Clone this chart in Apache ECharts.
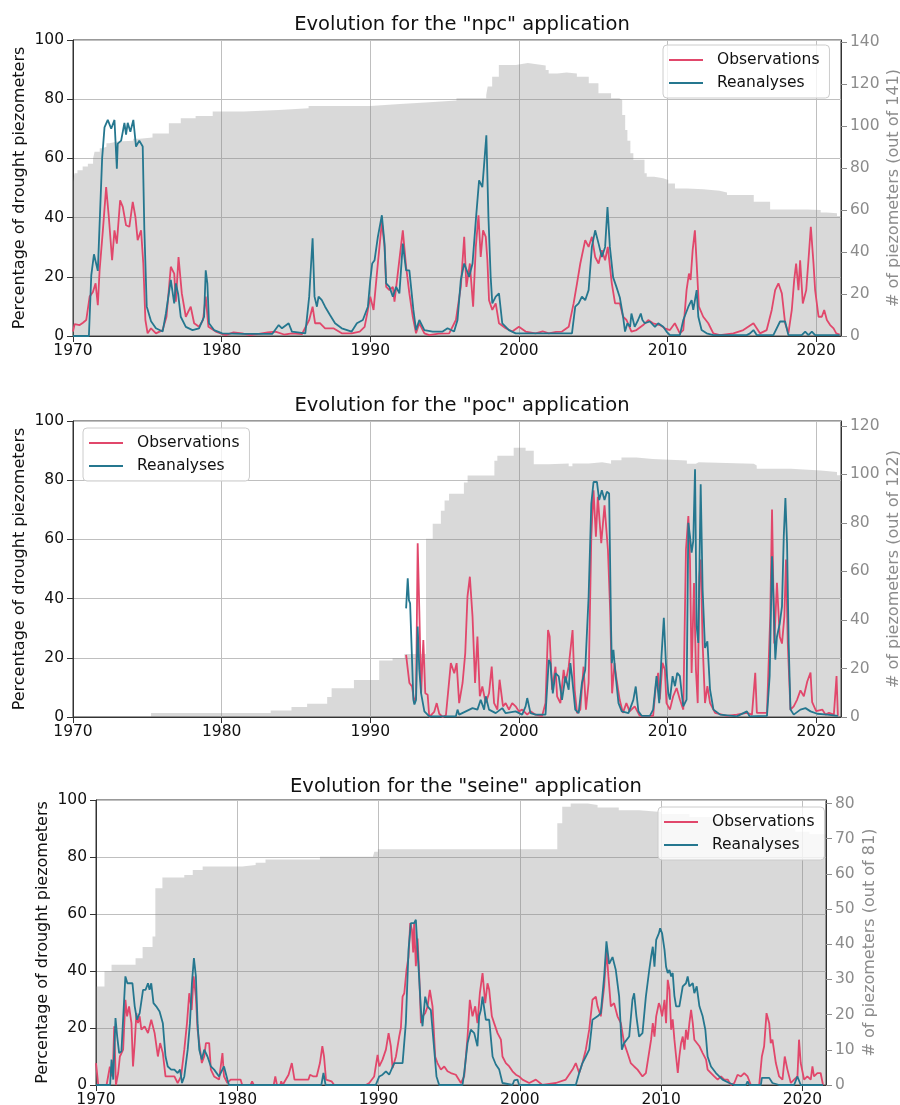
<!DOCTYPE html>
<html><head><meta charset="utf-8">
<script src="https://cdn.jsdelivr.net/npm/echarts@6/dist/echarts.min.js"></script>
<style>html,body{margin:0;padding:0;background:#fff}#c{width:900px;height:1105px}</style>
</head><body><div id="c"></div>
<script>
// ---------- DATA ----------
const xTicks = [1970, 1980, 1990, 2000, 2010, 2020];
const seriesNames = ['Observations', 'Reanalyses'];
const titles = ['Evolution for the "npc" application', 'Evolution for the "poc" application', 'Evolution for the "seine" application'];
const leftAxisName = 'Percentage of drought piezometers';
const rightAxisNames = ['# of piezometers (out of 141)', '# of piezometers (out of 122)', '# of piezometers (out of 81)'];
const rightMax = [141, 122, 81];
const rightTicks1 = [0, 20, 40, 60, 80, 100, 120, 140];
const rightTicks2 = [0, 20, 40, 60, 80, 100, 120];
const rightTicks3 = [0, 10, 20, 30, 40, 50, 60, 70, 80];
const leftTicks = [0, 20, 40, 60, 80, 100];

const npcObs = [[1970.0,1.5],[1970.11,4],[1970.45,3.7],[1970.67,4.5],[1970.89,5.4],[1971.12,13.3],[1971.34,14.9],[1971.52,17.8],[1971.67,10.4],[1971.79,22.2],[1972.01,35.7],[1972.23,50.3],[1972.41,40.2],[1972.63,25.6],[1972.79,35.7],[1972.95,31.2],[1973.17,45.8],[1973.35,43.6],[1973.57,37.4],[1973.79,36.9],[1974.02,45.3],[1974.2,40.2],[1974.35,32.4],[1974.58,35.7],[1974.73,24.5],[1974.87,5.4],[1975.02,0.9],[1975.25,2.6],[1975.58,0.9],[1976.03,2],[1976.29,6.5],[1976.58,23.4],[1976.81,21.1],[1976.92,11.6],[1977.1,26.7],[1977.32,14.4],[1977.59,6.5],[1977.92,9.9],[1978.15,4.3],[1978.48,3.1],[1978.75,5.4],[1978.93,13.3],[1979.11,3.1],[1979.6,1.5],[1980.27,0.3],[1980.8,1.2],[1981.38,0.9],[1981.9,0.3],[1982.5,0.7],[1983.1,1.2],[1983.62,1.5],[1984.2,0.5],[1984.73,0.9],[1985.4,0.6],[1985.89,5.4],[1986.12,9.9],[1986.29,4.3],[1986.63,4.3],[1986.96,2.6],[1987.52,2.6],[1988.08,0.9],[1988.75,0.9],[1989.29,1.5],[1989.62,3.1],[1989.84,8.8],[1990.0,13.3],[1990.22,8.8],[1990.51,24.5],[1990.78,38.5],[1990.96,30.1],[1991.07,16.6],[1991.29,15.5],[1991.52,16.6],[1991.63,11.6],[1991.85,21.1],[1992.19,35.7],[1992.41,23.4],[1992.63,14.4],[1992.86,6.5],[1993.08,0.9],[1993.3,4.3],[1993.64,0.9],[1993.97,0.3],[1994.6,0.8],[1995.31,0.9],[1995.76,5.4],[1996.09,16.6],[1996.32,33.5],[1996.47,16.6],[1996.7,24.5],[1996.92,9.9],[1997.1,30.1],[1997.28,40.8],[1997.43,26.7],[1997.59,35.7],[1997.77,33.5],[1997.88,25.6],[1997.99,12.1],[1998.21,8.8],[1998.44,11],[1998.66,4.3],[1999.11,2.6],[1999.55,1.5],[2000.0,3.1],[2000.45,1.5],[2001.12,0.9],[2001.6,1.6],[2002.01,0.9],[2002.5,1.4],[2002.9,1.5],[2003.35,3.1],[2003.68,11],[2003.91,17.8],[2004.13,24.5],[2004.46,32.4],[2004.69,30.1],[2004.91,33.5],[2005.13,26.7],[2005.36,24.5],[2005.58,29],[2005.8,25.6],[2005.98,30.1],[2006.25,17.8],[2006.47,11],[2006.79,11],[2007.01,6.5],[2007.24,5.4],[2007.57,1.5],[2007.91,2],[2008.36,3.7],[2008.7,5.4],[2009.03,4.3],[2009.48,3.7],[2009.82,2.6],[2010.16,2],[2010.49,4.3],[2010.83,0.9],[2011.06,2],[2011.28,15.5],[2011.44,21.1],[2011.55,18.9],[2011.69,29],[2011.84,35.7],[2011.96,24.5],[2012.11,9.9],[2012.4,6.5],[2012.74,4.3],[2013.08,0.9],[2013.53,0.3],[2014.43,0.9],[2015.1,2],[2015.78,4.3],[2016.22,0.9],[2016.67,2],[2017.01,8.8],[2017.24,15.5],[2017.46,17.8],[2017.69,14.4],[2017.91,4.3],[2018.13,0.9],[2018.36,8.8],[2018.52,18.9],[2018.65,24.5],[2018.81,15.5],[2018.92,25.6],[2019.1,11],[2019.33,15.5],[2019.48,25.6],[2019.64,36.9],[2019.82,24.5],[2019.93,15.5],[2020.16,6.5],[2020.38,6.5],[2020.54,8.8],[2020.72,5.4],[2020.94,3.7],[2021.17,2.6],[2021.35,0.9],[2021.58,0.5]];
const npcRea = [[1970,0],[1971.07,0],[1971.23,20.5],[1971.41,27.6],[1971.67,22],[1971.79,21.5],[1971.96,60],[1972.12,70.5],[1972.34,73],[1972.57,70],[1972.79,73],[1972.95,56.5],[1973.01,65],[1973.24,66],[1973.46,72],[1973.57,68],[1973.68,72],[1973.86,69],[1974.06,73],[1974.24,64],[1974.46,66],[1974.69,64],[1974.8,36],[1974.96,10],[1975.25,5],[1975.58,2.6],[1976.03,1.5],[1976.25,7.6],[1976.58,19],[1976.81,11],[1976.92,17.8],[1977.08,14],[1977.25,6.5],[1977.59,3.1],[1978.04,2],[1978.48,2.6],[1978.82,6.5],[1978.93,22.2],[1979.04,17.8],[1979.15,4.3],[1979.49,2],[1980.04,0.9],[1981.38,0.7],[1983.4,0.7],[1983.84,3.7],[1984.06,2.6],[1984.51,4.3],[1984.73,1.5],[1985.63,0.9],[1985.89,13.3],[1986.12,33],[1986.25,13.3],[1986.41,9.9],[1986.52,13.3],[1986.74,12.1],[1986.96,9.9],[1987.3,7],[1987.63,4.3],[1988.08,2.6],[1988.75,1.5],[1989.1,4.3],[1989.5,5.4],[1989.84,9.9],[1990.0,18.9],[1990.13,24.5],[1990.29,25.6],[1990.51,33.5],[1990.78,40.8],[1990.96,31.2],[1991.07,17.8],[1991.29,16.6],[1991.52,13.3],[1991.74,16.6],[1991.96,14.4],[1992.19,31.2],[1992.41,22.2],[1992.63,22.2],[1992.9,8.8],[1993.08,2],[1993.3,5.4],[1993.64,2],[1994.2,1.5],[1994.87,1.5],[1995.2,2.6],[1995.64,1.5],[1995.87,5.4],[1996.09,18.9],[1996.32,24.5],[1996.65,20],[1996.88,24.5],[1997.1,39],[1997.32,52.6],[1997.54,50.3],[1997.66,58],[1997.81,67.8],[1997.95,40.2],[1998.1,20],[1998.21,11],[1998.44,13.3],[1998.66,14.4],[1998.88,4.3],[1999.33,2],[1999.78,0.9],[2000.5,0.9],[2003.57,0.9],[2003.79,9.9],[2004.02,11],[2004.24,13.3],[2004.46,12.1],[2004.69,15.5],[2004.91,30.1],[2005.13,35.7],[2005.36,31.2],[2005.58,26.7],[2005.8,30.1],[2005.96,43.6],[2006.12,30.1],[2006.34,19.8],[2006.56,16.6],[2006.79,13],[2007.01,6.5],[2007.14,1.5],[2007.3,4.3],[2007.48,3.1],[2007.57,7.6],[2007.79,3.1],[2008.02,5.4],[2008.2,7.6],[2008.31,5.4],[2008.47,4.3],[2008.81,4.9],[2009.15,3.1],[2009.37,4.3],[2009.71,3.1],[2009.93,1.5],[2010.16,0.3],[2010.83,0.3],[2011.06,5.4],[2011.4,9.9],[2011.62,12.1],[2011.73,8.8],[2011.96,15.5],[2012.07,6.5],[2012.29,2],[2012.63,0.9],[2013.08,0.3],[2015.33,0.3],[2015.55,0.9],[2015.78,2],[2016.0,0.3],[2017.12,0.3],[2017.57,4.9],[2017.91,4.9],[2018.13,0.3],[2019.03,0.3],[2019.26,1.5],[2019.48,0.3],[2019.71,1.5],[2019.93,0.3],[2021.58,0.3]];
const npcCount = [[1970.0,73.5],[1970.1,77.5],[1970.3,79],[1970.65,80.7],[1971.0,82],[1971.35,84.6],[1971.45,87.8],[1971.8,89.4],[1972.0,90.2],[1972.25,91.8],[1972.45,92.6],[1973.0,93],[1974.05,94],[1974.5,94.6],[1975.35,96.5],[1976.45,101.3],[1977.25,103.7],[1978.25,104.8],[1979.4,106.9],[1981.5,107.7],[1983.85,108.5],[1985.85,109.6],[1990.0,110.5],[1992.0,111.3],[1994.0,112.2],[1995.8,113.2],[1997.8,114.8],[1997.9,118.8],[1998.2,123.5],[1998.65,129.1],[1999.8,130],[2000.6,129.5],[2001.2,128.9],[2001.8,126.7],[2002.0,125.1],[2002.6,125.5],[2003.2,125],[2003.9,123.5],[2004.7,120.4],[2005.35,115.6],[2006.2,113.2],[2006.75,112.4],[2006.95,105.3],[2007.15,98.1],[2007.3,93],[2007.5,87],[2007.7,84],[2008.45,77.5],[2008.6,75.9],[2009.1,75.1],[2009.7,74.3],[2010.05,72.7],[2010.5,70.3],[2011.3,69.9],[2012.4,69.2],[2013.5,68.3],[2014.0,67.2],[2015.8,64],[2016.9,60.3],[2019.4,60],[2020.3,58.8],[2020.7,58.5],[2021.4,57.2],[2021.67,57.2]];

const pocObs = [[1992.41,21],[1992.63,11.5],[1992.81,10.3],[1992.97,4.7],[1993.08,7],[1993.19,58.7],[1993.3,36],[1993.42,8],[1993.57,26],[1993.7,8],[1993.86,7.5],[1993.97,0],[1994.3,1.7],[1994.47,4.7],[1994.64,1.1],[1994.87,0],[1995.09,0.6],[1995.42,18.2],[1995.65,14.8],[1995.81,18.2],[1995.98,4.7],[1996.21,11.5],[1996.39,21.6],[1996.54,40.7],[1996.7,47.4],[1996.88,33.9],[1997.05,11.5],[1997.21,27.2],[1997.37,7],[1997.54,10.3],[1997.77,4.7],[1997.99,8],[1998.17,17],[1998.33,4.7],[1998.55,2.5],[1998.7,12.6],[1998.93,3.6],[1999.11,4.7],[1999.33,2.5],[1999.55,4.7],[1999.78,3.6],[2000.0,1.9],[2000.22,2.5],[2000.56,0.8],[2000.78,1.9],[2001.12,0.8],[2001.56,0.3],[2001.79,4.7],[2001.96,29.4],[2002.07,27.2],[2002.23,9.2],[2002.46,17],[2002.57,7],[2002.79,4.7],[2003.01,15.9],[2003.13,11.5],[2003.35,17],[2003.61,29.4],[2003.75,9.2],[2003.91,1.3],[2004.13,2.5],[2004.35,17],[2004.51,2.5],[2004.69,11.5],[2004.87,60.9],[2005.02,76.6],[2005.18,60.9],[2005.31,74.4],[2005.54,58.7],[2005.76,71.5],[2005.99,56.4],[2006.14,36],[2006.27,8],[2006.43,18.2],[2006.54,13.7],[2006.78,5.8],[2007.0,1.4],[2007.23,4.7],[2007.45,1.9],[2007.79,3.6],[2008.13,0.4],[2009.03,0.4],[2009.21,10.4],[2009.37,14.9],[2009.48,5.9],[2009.66,18.3],[2009.82,16],[2009.93,4.7],[2010.16,2.5],[2010.38,7],[2010.61,9.8],[2010.83,5.9],[2011.06,2.5],[2011.24,56.6],[2011.4,67.9],[2011.51,53.2],[2011.62,14.9],[2011.78,45.3],[2011.91,16],[2012.03,4.7],[2012.14,47.3],[2012.23,53.2],[2012.36,25],[2012.52,4.7],[2012.68,10.4],[2012.86,4.7],[2013.2,1.4],[2013.99,0.4],[2014.66,0.8],[2015.34,1.4],[2015.68,0.8],[2015.9,14.9],[2016.01,1.4],[2016.69,1.4],[2016.91,34],[2017.03,70.1],[2017.18,24.8],[2017.36,45.3],[2017.55,27.1],[2017.7,24.8],[2017.86,34],[2017.97,53.2],[2018.09,24.8],[2018.27,2.5],[2018.49,3.6],[2018.72,5.9],[2018.94,9],[2019.17,7],[2019.4,12],[2019.62,15],[2019.73,5],[2020.0,2],[2020.41,2.5],[2020.63,0.8],[2020.86,1.4],[2021.19,0.8],[2021.37,13.8],[2021.46,0.4]];
const pocRea = [[1992.41,36.7],[1992.52,46.9],[1992.6,39.5],[1992.68,38.4],[1992.81,38.4],[1992.9,5.8],[1992.97,4.2],[1993.08,5.8],[1993.19,30.6],[1993.3,16],[1993.42,8],[1993.64,1.9],[1993.97,0.2],[1995.76,0.2],[1995.87,2.5],[1995.98,0.8],[1996.43,1.9],[1996.88,3],[1997.21,2.5],[1997.43,5.8],[1997.66,2.5],[1997.77,7],[1997.99,2.5],[1998.44,1.3],[1998.88,3],[1999.11,1.3],[1999.78,1.9],[2000.22,0.8],[2000.45,3.6],[2000.56,6.4],[2000.78,1.3],[2001.12,0.8],[2001.79,0.8],[2002.01,19.3],[2002.12,18.2],[2002.28,8],[2002.46,14.8],[2002.68,13.7],[2002.9,5.8],[2003.13,13.7],[2003.35,9.2],[2003.46,18.2],[2003.57,13.7],[2003.79,2.5],[2004.02,1.3],[2004.24,11.5],[2004.46,15.9],[2004.69,40.7],[2004.87,72],[2005.02,79.4],[2005.25,79.4],[2005.4,73.3],[2005.58,76.6],[2005.76,73.3],[2005.92,76.1],[2006.07,75.5],[2006.2,30],[2006.25,18.2],[2006.36,22.7],[2006.47,15.9],[2006.7,4.7],[2006.92,1.9],[2007.37,1.3],[2007.7,5.8],[2007.86,10.3],[2008.04,1.9],[2008.26,0.4],[2008.81,0.4],[2009.03,2.5],[2009.26,13.8],[2009.44,4.7],[2009.59,20.3],[2009.75,33.5],[2009.89,18.3],[2010.05,8.1],[2010.16,5.9],[2010.34,13.8],[2010.5,10.4],[2010.65,14.9],[2010.83,13.8],[2010.95,8.1],[2011.06,3.6],[2011.28,5.9],[2011.4,65.6],[2011.51,61.1],[2011.62,55.5],[2011.73,59.4],[2011.85,83.7],[2011.96,30.6],[2012.07,25],[2012.23,78.6],[2012.36,43],[2012.52,23.3],[2012.68,25.6],[2012.86,9.2],[2013.09,2.5],[2013.54,0.8],[2014.66,0.2],[2015.34,1.9],[2015.52,0.2],[2016.69,0.4],[2016.87,13.8],[2017.03,54.3],[2017.14,38.3],[2017.25,19.4],[2017.36,27.1],[2017.55,31.6],[2017.7,37.4],[2017.82,61.1],[2017.93,74],[2018.04,58.7],[2018.15,24.8],[2018.27,2.5],[2018.49,0.8],[2018.94,2.5],[2019.28,3],[2019.62,1.9],[2020.07,1.1],[2020.74,0.8],[2021.46,0.4]];
const pocCount = [[1975.25,1.6],[1983.3,2.7],[1984.7,4.1],[1985.75,5.5],[1987.1,8.2],[1987.4,11.9],[1988.9,15.3],[1990.6,23.3],[1991.5,24.2],[1992.3,26],[1993.75,73.5],[1994.2,79.6],[1994.75,85],[1995.0,89.2],[1995.3,92],[1996.3,96.7],[1996.55,99.5],[1998.35,105.6],[1998.55,107.7],[1999.65,111],[2000.45,109.7],[2001.0,104.2],[2002.0,104.5],[2003.35,103.4],[2003.6,104.5],[2004.7,105],[2005.6,104.4],[2006.2,105.8],[2006.9,107],[2007.9,106.3],[2009.0,105.7],[2011.3,104.4],[2011.9,105],[2012.1,104.4],[2015.8,103.7],[2016.0,102.3],[2018.3,101.6],[2020.3,101],[2021.4,99.6],[2021.67,99.6]];

const seineObs = [[1970.0,7.7],[1970.16,0],[1970.75,0],[1970.98,6.4],[1971.1,3],[1971.22,8.9],[1971.29,20.6],[1971.41,0],[1971.57,4.2],[1971.69,10],[1971.8,10],[1971.92,12.4],[1972.08,29.9],[1972.2,24.1],[1972.34,27.6],[1972.51,21.7],[1972.62,6.5],[1972.74,14.7],[1972.86,25.2],[1972.97,21.7],[1973.09,24.1],[1973.21,19.4],[1973.44,20.6],[1973.68,18.2],[1973.91,22.9],[1974.15,18.2],[1974.38,10],[1974.54,14.7],[1974.73,11.2],[1974.92,3],[1975.2,3],[1975.55,3],[1975.78,0.7],[1976.02,3],[1976.25,12.4],[1976.44,21.7],[1976.6,32.2],[1976.77,26.3],[1976.91,38.1],[1977.07,31],[1977.19,19.4],[1977.31,14.7],[1977.49,7.7],[1977.66,10],[1977.78,14.7],[1978.01,14.7],[1978.13,5.4],[1978.36,3],[1978.71,1.9],[1978.95,11.2],[1979.06,3],[1979.3,0.7],[1979.53,1.9],[1980.23,1.9],[1980.35,0],[1980.94,0],[1981.05,1.3],[1981.17,0],[1982.58,0],[1982.69,3],[1982.81,0],[1983.04,0],[1983.11,1.3],[1983.21,0],[1983.63,3.6],[1983.86,7.7],[1984.05,1.9],[1984.33,1.9],[1985.04,1.9],[1985.15,3.6],[1985.39,3],[1985.62,3],[1985.85,7.7],[1986.02,13.6],[1986.14,10],[1986.28,1.9],[1986.67,1.3],[1986.86,0],[1989.1,0],[1989.34,0.7],[1989.69,3],[1989.93,10.6],[1990.05,6.5],[1990.28,8.9],[1990.52,12.4],[1990.71,18.2],[1990.87,13.6],[1990.99,6],[1991.23,10],[1991.46,17],[1991.58,20],[1991.7,31],[1991.82,32.2],[1991.98,40.4],[1992.12,45],[1992.24,56.8],[1992.36,54.5],[1992.45,46.5],[1992.52,56.8],[1992.64,41.7],[1992.76,51.4],[1992.88,38.6],[1993.0,21.7],[1993.11,24.1],[1993.3,25.2],[1993.47,27.6],[1993.63,33.4],[1993.82,27.6],[1994.01,9.9],[1994.17,7.7],[1994.41,5.4],[1994.65,6.5],[1994.88,4.8],[1995.12,4.2],[1995.47,3.6],[1995.83,0.7],[1996.06,3],[1996.3,17],[1996.46,29.9],[1996.65,24.1],[1996.84,27.6],[1997.0,21.7],[1997.17,32.2],[1997.36,39.3],[1997.55,28.7],[1997.71,35.7],[1997.83,33.4],[1998.02,24.1],[1998.18,21.7],[1998.42,18.2],[1998.66,15.9],[1998.77,10],[1999.01,7.7],[1999.25,6.5],[1999.48,4.8],[1999.72,3.6],[1999.95,3],[2000.19,1.9],[2000.66,0.7],[2001.13,1.9],[2001.6,0],[2002.55,0.7],[2003.25,1.9],[2003.73,5.4],[2003.96,7.7],[2004.2,4.2],[2004.43,7.7],[2004.67,12.4],[2004.91,19.4],[2005.14,29.9],[2005.38,31],[2005.5,27.6],[2005.73,24.1],[2005.97,34.6],[2006.13,47.4],[2006.27,38.1],[2006.44,27.6],[2006.67,28.7],[2006.91,24.1],[2007.15,21.7],[2007.38,14.7],[2007.62,11.2],[2007.85,7.7],[2008.09,6.5],[2008.33,5.4],[2008.68,3],[2008.92,4.2],[2009.18,12.4],[2009.29,15.9],[2009.41,21.7],[2009.53,17],[2009.65,24.1],[2009.84,28.7],[2009.93,27.6],[2010.07,24.1],[2010.24,29.9],[2010.35,21.7],[2010.47,36.9],[2010.59,33.4],[2010.71,19.4],[2010.82,23],[2010.94,15.9],[2011.06,10],[2011.18,4.2],[2011.29,10],[2011.41,14.7],[2011.53,17],[2011.65,12.4],[2011.76,19.4],[2011.88,15.9],[2012.0,21.7],[2012.12,26.4],[2012.24,21.7],[2012.35,15.9],[2012.47,15.9],[2012.71,13.6],[2012.94,11.2],[2013.18,8.9],[2013.29,5.4],[2013.53,4.2],[2013.76,3],[2014.0,1.9],[2014.24,3],[2014.47,1.9],[2014.71,1.9],[2014.94,0],[2015.18,0.7],[2015.41,3.6],[2015.65,3],[2015.88,4.2],[2016.12,3],[2016.35,0],[2016.94,0],[2017.13,10],[2017.29,13.6],[2017.46,25.2],[2017.65,21.7],[2017.76,14.7],[2017.88,15.9],[2018.12,7.7],[2018.35,3],[2018.59,1.9],[2018.75,10],[2018.94,5.4],[2019.18,0.7],[2019.41,1.9],[2019.65,3],[2019.76,15.9],[2019.88,7.7],[2020.12,1.9],[2020.35,3],[2020.59,1.9],[2020.71,6.5],[2020.82,3],[2021.06,4.2],[2021.29,4.2],[2021.46,0]];
const seineRea = [[1970.0,0],[1971.0,0],[1971.1,8.9],[1971.22,1.9],[1971.38,23.5],[1971.5,17],[1971.64,11.2],[1971.8,11.8],[1971.92,11.8],[1972.08,38.1],[1972.22,35.7],[1972.58,35.7],[1972.74,27.6],[1972.9,22.9],[1973.09,25.2],[1973.33,33.4],[1973.51,33.4],[1973.68,35.7],[1973.79,33.4],[1973.91,35.7],[1974.07,28.7],[1974.26,27.6],[1974.5,25.8],[1974.73,21.7],[1974.92,10],[1975.08,6.5],[1975.32,5.4],[1975.55,5.4],[1975.78,4.2],[1975.95,5.4],[1976.09,0.7],[1976.25,3],[1976.49,12.4],[1976.65,21.7],[1976.79,35.7],[1976.93,44.5],[1977.07,38.1],[1977.19,21.7],[1977.31,12.4],[1977.49,8.9],[1977.66,12.4],[1977.89,10],[1978.13,6.5],[1978.36,5.4],[1978.71,3],[1979.06,6.5],[1979.3,1.9],[1979.41,0],[1985.95,0],[1986.1,4.2],[1986.25,0],[1989.8,0],[1990.05,3],[1990.28,3.6],[1990.52,4.8],[1990.75,3.6],[1991.11,7.7],[1991.7,7.7],[1991.93,21.7],[1992.12,47.4],[1992.29,56.8],[1992.52,56.8],[1992.64,58],[1992.76,58.5],[1992.88,36.9],[1993.0,26.3],[1993.11,20.6],[1993.3,31],[1993.47,27.6],[1993.7,26.3],[1993.94,12.4],[1994.1,3],[1994.29,0],[1995.94,0],[1996.06,4.2],[1996.3,14.7],[1996.53,19.4],[1996.77,18.2],[1997.0,13.6],[1997.12,24.1],[1997.24,26.3],[1997.36,31],[1997.59,22.9],[1997.83,22.9],[1998.07,10],[1998.3,7.2],[1998.54,5.4],[1998.77,0.7],[1998.89,0],[1999.48,0],[1999.6,1.6],[1999.83,1.9],[1999.95,0],[2003.96,0],[2004.2,4.2],[2004.43,7.7],[2004.67,10],[2004.91,12.4],[2005.14,22.9],[2005.5,24.1],[2005.73,25.2],[2005.97,38.1],[2006.13,50.4],[2006.32,42.5],[2006.56,44.9],[2006.79,40.4],[2007.03,31],[2007.22,12.4],[2007.38,14.7],[2007.74,17],[2007.97,29.9],[2008.09,32.2],[2008.25,24.1],[2008.44,17],[2008.68,18.2],[2008.92,31],[2009.15,40],[2009.29,45],[2009.41,48.5],[2009.53,41.5],[2009.65,50.9],[2009.84,53.2],[2009.93,55],[2010.07,53.2],[2010.24,47.4],[2010.35,41.5],[2010.47,39.3],[2010.59,40.4],[2010.71,38.1],[2010.82,39.3],[2010.94,31.3],[2011.06,27.6],[2011.29,27.6],[2011.53,34.6],[2011.76,35.7],[2011.88,38.1],[2012.0,34.6],[2012.24,35.7],[2012.35,32.2],[2012.52,34.6],[2012.71,27.6],[2012.94,24.1],[2013.13,19.4],[2013.29,10],[2013.53,6.5],[2013.88,4.2],[2014.35,1.9],[2014.82,0.7],[2015.18,0],[2016.0,0],[2016.12,1.3],[2016.24,0],[2017.06,0],[2017.13,2.5],[2017.65,2.5],[2017.88,0.7],[2018.35,0],[2019.41,0],[2019.65,3],[2019.88,0],[2021.46,0]];
const seineCount = [[1970.0,28],[1970.6,32.3],[1971.1,34.2],[1972.8,36],[1973.3,39.2],[1974.0,42.2],[1974.2,55.9],[1974.7,59],[1976.25,59.7],[1976.85,61.1],[1977.55,62.1],[1980.35,62.5],[1981.3,63.2],[1982.0,64.1],[1985.85,64.9],[1989.6,65.4],[1989.7,66.3],[1989.95,67],[2002.65,74.4],[2003.0,79.1],[2003.6,80],[2004.8,79.6],[2005.5,78.9],[2007.0,78.1],[2008.45,77.6],[2010.0,77],[2012.0,76.2],[2014.0,75.2],[2016.0,74],[2018.0,73],[2019.5,72],[2020.5,71.3],[2021.67,71.3]];

// ---------- LAYOUT / STYLE ----------
const XMIN = 1970, XMAX = 2021.67;
const F = 'DejaVu Sans';
const RED = '#e1476b';
const TEAL = '#25778f';
const panels = [
  {obs: npcObs, rea: npcRea, cnt: npcCount, rTicks: rightTicks1, rInt: 20, rGap: 45,
   grid: {left: 73, top: 40, width: 768, height: 296}, titleTop: 10, legend: {left: 663, top: 45}},
  {obs: pocObs, rea: pocRea, cnt: pocCount, rTicks: rightTicks2, rInt: 20, rGap: 45,
   grid: {left: 73, top: 421, width: 768, height: 296}, titleTop: 391, legend: {left: 83, top: 428}},
  {obs: seineObs, rea: seineRea, cnt: seineCount, rTicks: rightTicks3, rInt: 10, rGap: 36,
   grid: {left: 96, top: 800, width: 730, height: 285}, titleTop: 772, legend: {left: 658, top: 807}}
];

const option = {animation: false, backgroundColor: '#fff', title: [], grid: [], xAxis: [], yAxis: [], legend: [], series: []};

panels.forEach((p, i) => {
  const g = p.grid;
  option.title.push({text: titles[i], left: g.left + g.width / 2, top: p.titleTop, textAlign: 'center',
    textStyle: {fontFamily: F, fontSize: 19.5, fontWeight: 'normal', color: '#111'}});
  option.grid.push({left: g.left, top: g.top, width: g.width, height: g.height, show: true,
    borderColor: '#333', borderWidth: 1, backgroundColor: 'transparent', containLabel: false,
    outerBoundsMode: 'none'});
  option.xAxis.push({type: 'value', gridIndex: i, min: XMIN, max: XMAX, interval: 10,
    axisLine: {show: true, onZero: false, lineStyle: {color: '#333', width: 1}},
    axisTick: {show: true, length: 6, lineStyle: {color: '#333'}, customValues: xTicks},
    axisLabel: {fontFamily: F, fontSize: 15.5, color: '#111', margin: 7, customValues: xTicks,
      formatter: v => String(Math.round(v))},
    splitLine: {show: true, lineStyle: {color: '#bfbfbf', width: 1}}});
  option.yAxis.push({type: 'value', gridIndex: i, position: 'left', min: 0, max: 100, interval: 20,
    name: leftAxisName, nameLocation: 'middle', nameRotate: 90, nameGap: 45, nameMoveOverlap: false,
    nameTextStyle: {fontFamily: F, fontSize: 16, color: '#111'},
    axisLine: {show: true, onZero: false, lineStyle: {color: '#333', width: 1}},
    axisTick: {show: true, length: 6, lineStyle: {color: '#333'}, customValues: leftTicks},
    axisLabel: {fontFamily: F, fontSize: 15.5, color: '#111', margin: 9, customValues: leftTicks},
    splitLine: {show: true, lineStyle: {color: '#bfbfbf', width: 1}}});
  option.yAxis.push({type: 'value', gridIndex: i, position: 'right', min: 0, max: rightMax[i], interval: p.rInt,
    name: rightAxisNames[i], nameLocation: 'middle', nameRotate: 90, nameGap: p.rGap, nameMoveOverlap: false,
    nameTextStyle: {fontFamily: F, fontSize: 16, color: '#8c8c8c'},
    axisLine: {show: true, onZero: false, lineStyle: {color: '#333', width: 1}},
    axisTick: {show: true, length: 6, lineStyle: {color: '#8c8c8c'}, customValues: p.rTicks},
    axisLabel: {fontFamily: F, fontSize: 15.5, color: '#8c8c8c', margin: 9, customValues: p.rTicks},
    splitLine: {show: false}});
  option.legend.push({data: seriesNames, orient: 'vertical', left: p.legend.left, top: p.legend.top,
    icon: 'rect', itemWidth: 34, itemHeight: 2, itemGap: 7, padding: [7, 10, 7, 6],
    backgroundColor: 'rgba(255,255,255,0.8)', borderColor: '#cccccc', borderWidth: 1, borderRadius: 4,
    textStyle: {fontFamily: F, fontSize: 15.5, color: '#111', lineHeight: 16, padding: [0, 0, 0, 9]},
    selectedMode: false});
  option.series.push({type: 'line', name: 'count', xAxisIndex: i, yAxisIndex: 2 * i + 1, data: p.cnt,
    step: 'end', symbol: 'none', silent: true, lineStyle: {width: 0, opacity: 0},
    areaStyle: {color: 'rgba(128,128,128,0.3)', opacity: 1, origin: 'start'}, z: 1});
  option.series.push({type: 'line', name: seriesNames[0], xAxisIndex: i, yAxisIndex: 2 * i, data: p.obs,
    symbol: 'none', lineStyle: {width: 1.8, color: RED}, itemStyle: {color: RED}, z: 3});
  option.series.push({type: 'line', name: seriesNames[1], xAxisIndex: i, yAxisIndex: 2 * i, data: p.rea,
    symbol: 'none', lineStyle: {width: 1.8, color: TEAL}, itemStyle: {color: TEAL}, z: 4});
});

const chart = echarts.init(document.getElementById('c'), null, {renderer: 'canvas'});
chart.setOption(option);
</script>
</body></html>
